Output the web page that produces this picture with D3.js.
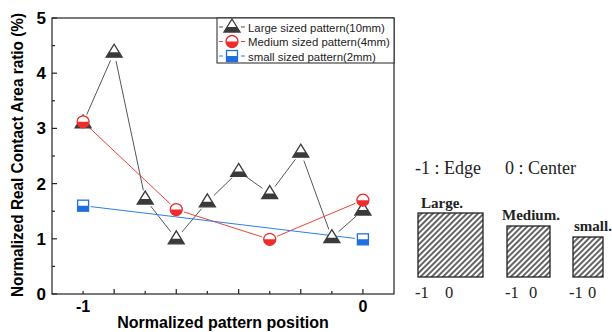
<!DOCTYPE html>
<html>
<head>
<meta charset="utf-8">
<script src="https://cdn.jsdelivr.net/npm/d3@7"></script>
<style>
  body { margin: 0; background: #fff; }
  svg { display: block; }
</style>
</head>
<body>
<svg id="chart" width="612" height="332"></svg>
<script>
// data
var positions = [-1, -0.889, -0.778, -0.667, -0.556, -0.444, -0.333, -0.222, -0.111, 0]
var large_pos = positions
var large_vals = [3.1, 4.38, 1.72, 1.0, 1.67, 2.22, 1.82, 2.57, 1.02, 1.52]
var medium_pos = [-1, -0.667, -0.333, 0]
var medium_vals = [3.12, 1.53, 0.99, 1.7]
var small_pos = [-1, 0]
var small_vals = [1.6, 0.99]
var y_ticks = [0, 1, 2, 3, 4, 5]
var x_tick_labels = [-1, 0]
var legend_labels = ["Large sized pattern(10mm)", "Medium sized pattern(4mm)", "small sized pattern(2mm)"]

var svg = d3.select("#chart")

var plot_left = 52, plot_right = 394, plot_top = 18, plot_bottom = 294

var x = d3.scaleLinear().domain([-1 - 1/9, 1/9]).range([plot_left, plot_right])
var y = d3.scaleLinear().domain([0, 5]).range([plot_bottom, plot_top])

var sans = "Arial, 'Liberation Sans', sans-serif"
var serif = "'Times New Roman', 'Liberation Serif', serif"

var defs = svg.append("defs")

var hatch = defs.append("pattern")
  .attr("id", "hatch")
  .attr("patternUnits", "userSpaceOnUse")
  .attr("width", 4).attr("height", 4)
  .attr("patternTransform", "rotate(45)")
hatch.append("rect").attr("width", 4).attr("height", 4).attr("fill", "#fff")
hatch.append("line")
  .attr("x1", 1).attr("y1", 0).attr("x2", 1).attr("y2", 4)
  .attr("stroke", "#222").attr("stroke-width", 1.4)

// frame
svg.append("rect")
  .attr("x", plot_left).attr("y", plot_top)
  .attr("width", plot_right - plot_left).attr("height", plot_bottom - plot_top)
  .attr("fill", "none").attr("stroke", "#222").attr("stroke-width", 1.2)

// y axis ticks (inward)
var y_minor = d3.range(0, 5.01, 0.5)
svg.selectAll(".ytick").data(y_minor).enter().append("line")
  .attr("class", "ytick")
  .attr("x1", plot_left).attr("x2", function(d){ return d % 1 == 0 ? plot_left + 5 : plot_left + 3; })
  .attr("y1", function(d){ return y(d); }).attr("y2", function(d){ return y(d); })
  .attr("stroke", "#222").attr("stroke-width", 1.2)

svg.selectAll(".ylab").data(y_ticks).enter().append("text")
  .attr("class", "ylab")
  .attr("x", plot_left - 6)
  .attr("y", function(d){ return y(d) + 6; })
  .attr("text-anchor", "end")
  .style("font-family", sans).style("font-weight", "bold").style("font-size", "17px")
  .text(function(d){ return d; })

// x axis ticks: long every second position counting back from 0
svg.selectAll(".xtick").data(positions).enter().append("line")
  .attr("class", "xtick")
  .attr("x1", function(d){ return x(d); }).attr("x2", function(d){ return x(d); })
  .attr("y1", plot_bottom).attr("y2", function(d, i){ return i % 2 == 1 ? plot_bottom - 5 : plot_bottom - 3; })
  .attr("stroke", "#222").attr("stroke-width", 1.2)

svg.selectAll(".xlab").data(x_tick_labels).enter().append("text")
  .attr("class", "xlab")
  .attr("x", function(d){ return x(d); })
  .attr("y", plot_bottom + 18)
  .attr("text-anchor", "middle")
  .style("font-family", sans).style("font-weight", "bold").style("font-size", "16px")
  .text(function(d){ return d; })

svg.append("text")
  .attr("x", (plot_left + plot_right) / 2).attr("y", 328)
  .attr("text-anchor", "middle")
  .style("font-family", sans).style("font-weight", "bold").style("font-size", "16px")
  .text("Normalized pattern position")

svg.append("text")
  .attr("transform", "translate(23,155) rotate(-90)")
  .attr("text-anchor", "middle")
  .attr("textLength", 284).attr("lengthAdjust", "spacingAndGlyphs")
  .style("font-family", sans).style("font-weight", "bold").style("font-size", "16px")
  .text("Normalized Real Contact Area ratio (%)")

// series
var series = [
  {name: legend_labels[0], xs: large_pos, ys: large_vals, color: "#3a3a3a", line: "#555", shape: "tri", gap: 9},
  {name: legend_labels[1], xs: medium_pos, ys: medium_vals, color: "#ee2c2c", line: "#f04040", shape: "circ", gap: 8},
  {name: legend_labels[2], xs: small_pos, ys: small_vals, color: "#1f6fe0", line: "#2d7fe8", shape: "sq", gap: 8}
]

function draw_segments(g, pts, color, gap) {
  for (var i = 0; i < pts.length - 1; i++) {
    var a = pts[i], b = pts[i+1]
    var dx = b[0] - a[0], dy = b[1] - a[1]
    var len = Math.sqrt(dx*dx + dy*dy)
    if (len <= 2 * gap) continue
    var ux = dx / len, uy = dy / len
    g.append("line")
      .attr("x1", a[0] + ux * gap).attr("y1", a[1] + uy * gap)
      .attr("x2", b[0] - ux * gap).attr("y2", b[1] - uy * gap)
      .attr("stroke", color).attr("stroke-width", 1)
  }
}

var marker_id = 0
function draw_marker(g, cx, cy, shape, color) {
  var id = "half" + (marker_id++)
  defs.append("clipPath").attr("id", id)
    .append("rect").attr("x", cx - 10).attr("y", cy).attr("width", 20).attr("height", 10)
  var shape_fn = function(sel) {
    if (shape == "tri") {
      return sel.append("path").attr("d", "M" + cx + "," + (cy - 8) + " L" + (cx + 8) + "," + (cy + 5) + " L" + (cx - 8) + "," + (cy + 5) + " Z")
    } else if (shape == "circ") {
      return sel.append("circle").attr("cx", cx).attr("cy", cy).attr("r", 6)
    } else {
      return sel.append("rect").attr("x", cx - 5.5).attr("y", cy - 5.5).attr("width", 11).attr("height", 11)
    }
  }
  shape_fn(g).attr("fill", "#fff")
  shape_fn(g).attr("fill", color).attr("clip-path", "url(#" + id + ")")
  shape_fn(g).attr("fill", "none").attr("stroke", color).attr("stroke-width", 1.3)
}

series.forEach(function(s){
  var g = svg.append("g")
  var pts = s.xs.map(function(d, i){ return [x(d), y(s.ys[i])]; })
  draw_segments(g, pts, s.line, s.gap)
})
series.forEach(function(s){
  var g = svg.append("g")
  s.xs.forEach(function(d, i){ draw_marker(g, x(d), y(s.ys[i]), s.shape, s.color); })
})

// legend
var lg = svg.append("g")
lg.append("rect")
  .attr("x", 217).attr("y", plot_top).attr("width", plot_right - 217).attr("height", 45)
  .attr("fill", "#fff").attr("stroke", "#222").attr("stroke-width", 1)
series.forEach(function(s, i){
  var ly = 27 + i * 14.5
  lg.append("line").attr("x1", 219).attr("x2", 223).attr("y1", ly).attr("y2", ly)
    .attr("stroke", s.line).attr("stroke-width", 1)
  lg.append("line").attr("x1", 241).attr("x2", 245).attr("y1", ly).attr("y2", ly)
    .attr("stroke", s.line).attr("stroke-width", 1)
  draw_marker(lg, 232, ly, s.shape, s.color)
  lg.append("text")
    .attr("x", 248).attr("y", ly + 4.5)
    .style("font-family", sans).style("font-size", "11.4px").style("fill", "#222")
    .text(s.name)
})

// pattern illustration on the right
var boxes = [
  {label: "Large.", x0: 418, x1: 483, y0: 213, lx: 421, ly: 208, n1: 415, n0: 445},
  {label: "Medium.", x0: 507, x1: 550, y0: 226, lx: 502, ly: 220, n1: 505, n0: 529},
  {label: "small.", x0: 573, x1: 603, y0: 237, lx: 574, ly: 231, n1: 569, n0: 588}
]
var box_bottom = 277

svg.append("text")
  .attr("x", 415).attr("y", 174)
  .style("font-family", serif).style("font-size", "18px").style("fill", "#222")
  .text("-1 : Edge")
svg.append("text")
  .attr("x", 505).attr("y", 174)
  .style("font-family", serif).style("font-size", "18px").style("fill", "#222")
  .text("0 : Center")

boxes.forEach(function(b){
  svg.append("rect")
    .attr("x", b.x0).attr("y", b.y0).attr("width", b.x1 - b.x0).attr("height", box_bottom - b.y0)
    .attr("fill", "url(#hatch)").attr("stroke", "#222").attr("stroke-width", 1.3)
  svg.append("text")
    .attr("x", b.lx).attr("y", b.ly)
    .style("font-family", serif).style("font-weight", "bold").style("font-size", "15px").style("fill", "#222")
    .text(b.label)
  svg.append("text").attr("x", b.n1).attr("y", 298)
    .style("font-family", serif).style("font-size", "16.5px").style("fill", "#222").text("-1")
  svg.append("text").attr("x", b.n0).attr("y", 298)
    .style("font-family", serif).style("font-size", "16.5px").style("fill", "#222").text("0")
})
</script>
</body>
</html>
